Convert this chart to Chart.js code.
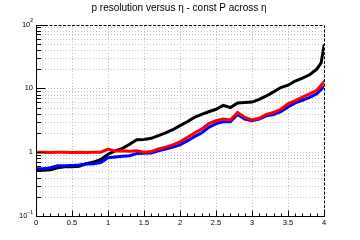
<!DOCTYPE html>
<html>
<head>
<meta charset="utf-8">
<script src="https://cdn.jsdelivr.net/npm/chart.js@4/dist/chart.umd.min.js"></script>
<style>
  html, body { margin: 0; padding: 0; background: #fff; }
  #wrap { width: 360px; height: 240px; }
</style>
</head>
<body>
<div id="wrap"><canvas id="resChart" width="360" height="240"></canvas></div>
<script>
// eta bins (x) en de drie resolutie-curves
const eta = [0, 0.1, 0.2, 0.3, 0.4, 0.5, 0.6, 0.7, 0.8, 0.9,
             1.0, 1.1, 1.2, 1.3, 1.4, 1.5, 1.6, 1.7, 1.8, 1.9,
             2.0, 2.1, 2.2, 2.3, 2.4, 2.5, 2.6, 2.7, 2.8, 2.9,
             3.0, 3.1, 3.2, 3.3, 3.4, 3.5, 3.6, 3.7, 3.8, 3.9, 3.96, 4.0];

const blackRes = [0.52, 0.52, 0.53, 0.57, 0.59, 0.59, 0.60, 0.66, 0.70, 0.77,
                  0.93, 1.05, 1.15, 1.33, 1.56, 1.58, 1.65, 1.82, 2.0, 2.25,
                  2.6, 3.0, 3.5, 3.9, 4.3, 4.7, 5.4, 5.0, 5.9, 6.0,
                  6.1, 6.7, 7.6, 8.8, 10.3, 11.2, 13.0, 14.5, 16.3, 20.0, 25.0, 46.0];

const blueRes = [0.55, 0.55, 0.57, 0.61, 0.61, 0.62, 0.63, 0.65, 0.66, 0.69,
                 0.82, 0.84, 0.86, 0.88, 0.95, 0.96, 0.97, 1.05, 1.12, 1.2,
                 1.3, 1.5, 1.75, 2.0, 2.45, 2.8, 3.0, 3.0, 3.9, 3.3,
                 3.1, 3.3, 3.7, 3.9, 4.3, 5.1, 5.9, 6.5, 7.2, 8.2, 9.6, 10.6];

const redRes = [1.0, 1.0, 0.99, 1.0, 1.0, 0.99, 1.0, 0.99, 1.0, 1.0,
                1.12, 1.04, 1.05, 1.03, 1.05, 1.0, 1.02, 1.12, 1.2, 1.3,
                1.45, 1.7, 2.0, 2.3, 2.8, 3.1, 3.3, 3.2, 4.2, 3.5,
                3.2, 3.4, 3.9, 4.2, 4.7, 5.7, 6.4, 7.3, 8.2, 9.3, 11.2, 12.6];

const xTicks = [0, 0.5, 1, 1.5, 2, 2.5, 3, 3.5, 4];
const xTickLabels = ['0', '0.5', '1', '1.5', '2', '2.5', '3', '3.5', '4'];
const yDecades = [0.1, 1, 10, 100];
const yDecadeLabels = [['10', '\u22121'], ['1', ''], ['10', ''], ['10', '2']];
const chartTitle = 'p resolution versus \u03b7 - const P across \u03b7';

function toPoints(values) {
    return values.map((v, i) => ({ x: eta[i], y: v }));
}

const FONT = '"Liberation Sans", Arial, sans-serif';

// Eigen plugin: grid, ticks, labels en titel in ROOT-stijl
const rootFrame = {
    id: 'rootFrame',
    beforeDatasetsDraw(chart) {
        const ctx = chart.ctx;
        const { left, right, top, bottom } = chart.chartArea;
        const xs = chart.scales.x, ys = chart.scales.y;
        ctx.save();
        ctx.strokeStyle = '#c4c4c4';
        ctx.lineWidth = 1;
        ctx.setLineDash([1, 2]);
        // verticale grid
        xTicks.forEach(t => {
            if (t === 0 || t === 4) return;
            const px = Math.round(xs.getPixelForValue(t)) + 0.5;
            ctx.beginPath(); ctx.moveTo(px, bottom); ctx.lineTo(px, top); ctx.stroke();
        });
        // horizontale grid op alle log-ticks
        yDecades.forEach(d => {
            for (let m = 1; m <= 9; m++) {
                const v = d * m;
                if (v <= 0.1 || v >= 100) continue;
                const py = Math.round(ys.getPixelForValue(v)) + 0.5;
                ctx.beginPath(); ctx.moveTo(left, py); ctx.lineTo(right, py); ctx.stroke();
            }
        });
        // boven- en rechterrand gestippeld
        ctx.strokeStyle = '#000';
        ctx.setLineDash([3, 1.5]);
        ctx.beginPath();
        ctx.moveTo(left, Math.round(top) + 0.5);
        ctx.lineTo(Math.round(right) + 0.5, Math.round(top) + 0.5);
        ctx.lineTo(Math.round(right) + 0.5, bottom);
        ctx.stroke();
        ctx.restore();
    },
    afterDatasetsDraw(chart) {
        const ctx = chart.ctx;
        const { left, right, top, bottom } = chart.chartArea;
        const xs = chart.scales.x, ys = chart.scales.y;
        const L = Math.round(left) + 0.5, B = Math.round(bottom) + 0.5;
        ctx.save();
        ctx.strokeStyle = '#000';
        ctx.lineWidth = 1;
        ctx.beginPath();
        ctx.moveTo(L, Math.round(top)); ctx.lineTo(L, B); ctx.lineTo(Math.round(right) + 1, B);
        ctx.stroke();

        // x ticks
        ctx.beginPath();
        for (let i = 0; i <= 40; i++) {
            const v = i / 10;
            const px = Math.round(xs.getPixelForValue(v)) + 0.5;
            const len = (i % 5 === 0) ? 6 : 3;
            ctx.moveTo(px, B); ctx.lineTo(px, B - len);
        }
        // y ticks
        yDecades.forEach(d => {
            for (let m = 1; m <= 9; m++) {
                const v = d * m;
                if (v < 0.1 || v > 100) continue;
                const py = Math.round(ys.getPixelForValue(v)) + 0.5;
                const len = (m === 1) ? 9 : 4.5;
                ctx.moveTo(L, py); ctx.lineTo(L + len, py);
            }
        });
        ctx.stroke();

        // labels
        ctx.fillStyle = '#000';
        ctx.font = '7.5px ' + FONT;
        ctx.textAlign = 'center';
        ctx.textBaseline = 'top';
        xTicks.forEach((t, i) => {
            ctx.fillText(xTickLabels[i], xs.getPixelForValue(t), bottom + 3);
        });
        ctx.textBaseline = 'middle';
        yDecades.forEach((d, i) => {
            const py = ys.getPixelForValue(d);
            const [base, sup] = yDecadeLabels[i];
            ctx.font = '7.5px ' + FONT;
            if (sup) {
                ctx.font = '5px ' + FONT;
                const sw = ctx.measureText(sup).width;
                ctx.textAlign = 'right';
                ctx.fillText(sup, left - 3, py - 3.5);
                ctx.font = '7.5px ' + FONT;
                ctx.fillText(base, left - 3 - sw, py);
            } else {
                ctx.textAlign = 'right';
                ctx.fillText(base, left - 3, py);
            }
        });

        // titel
        ctx.font = '10px ' + FONT;
        ctx.textAlign = 'center';
        ctx.textBaseline = 'alphabetic';
        ctx.fillText(chartTitle, 179, 10.5);
        ctx.restore();
    }
};

const ctx = document.getElementById('resChart').getContext('2d');
new Chart(ctx, {
    type: 'line',
    data: {
        datasets: [
            { label: 'red', data: toPoints(redRes), borderColor: '#ff0000', order: 1 },
            { label: 'blue', data: toPoints(blueRes), borderColor: '#0000ff', order: 2 },
            { label: 'black', data: toPoints(blackRes), borderColor: '#000000', order: 3 }
        ]
    },
    options: {
        responsive: false,
        animation: false,
        devicePixelRatio: 1,
        layout: { padding: { left: 36, right: 36, top: 24.5, bottom: 24 } },
        elements: {
            line: { borderWidth: 3, tension: 0, borderCapStyle: 'square', fill: false },
            point: { radius: 0 }
        },
        scales: {
            x: { type: 'linear', min: 0, max: 4, display: false },
            y: { type: 'logarithmic', min: 0.1, max: 100, display: false }
        },
        plugins: {
            legend: { display: false },
            tooltip: { enabled: false },
            title: { display: false }
        }
    },
    plugins: [rootFrame]
});
</script>
</body>
</html>
